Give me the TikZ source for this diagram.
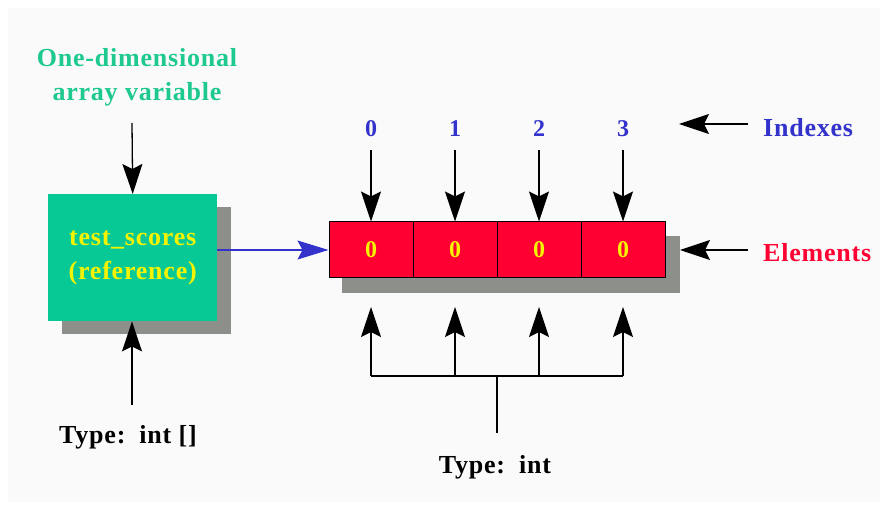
\documentclass[tikz,border=0pt]{standalone}
\usepackage{fontspec}
\setmainfont{Liberation Serif}
\usetikzlibrary{arrows.meta}
\definecolor{boxgreen}{HTML}{06C995}
\definecolor{txtgreen}{HTML}{1DC98E}
\definecolor{elred}{HTML}{FF0033}
\definecolor{idxblue}{HTML}{3333CC}
\definecolor{shadowgray}{HTML}{8C8F8A}
\definecolor{bgpanel}{HTML}{FAFAFA}
\definecolor{boxyellow}{HTML}{F4F400}
\newfontfamily\lblfont[LetterSpace=3]{Liberation Serif}
\tikzset{
  lbl/.style={font=\lblfont\bfseries\fontsize{26}{34}\selectfont, inner sep=0pt, align=center},
  digit/.style={font=\bfseries\fontsize{24}{26}\selectfont, inner sep=0pt},
  arr/.style={line width=1.3pt, -{Stealth[length=30pt,width=20pt,inset=5pt]}},
  blarr/.style={line width=1.2pt, idxblue, -{Stealth[length=31pt,width=19pt,inset=5pt]}},
  cell/.style={draw=black, line width=1pt, fill=elred, minimum width=84pt, minimum height=56pt, inner sep=0pt, digit, text=boxyellow},
  shadow/.style={fill=shadowgray, draw=none},
}
\begin{document}
\begin{tikzpicture}[x=1pt,y=-1pt]
\useasboundingbox (0,0) rectangle (887,510);
\fill[white] (0,0) rectangle (887,510);
\fill[bgpanel] (8,8) rectangle (880,502);
% green box
\fill[shadow] (62,207) rectangle (231,334);
\node[fill=boxgreen, minimum width=169pt, minimum height=127pt, inner sep=0pt, anchor=north west,
      lbl, text=boxyellow] (var) at (48,194) {test\_scores\\(reference)};
% labels
\node[lbl, text=txtgreen] (title) at (137,77) {One-dimensional\\array variable};
\coordinate (titlearr) at (132,123);
\draw[arr] (titlearr) -- (var.north);
\node[lbl] (typearr) at (128,437) {Type:\, int []};
\coordinate (typestart) at (132,405);
\draw[arr] (typestart) -- (var.south -| typestart);
% array
\fill[shadow] (342,236) rectangle (680,293);
\foreach \i/\x in {0/371,1/455,2/539,3/623}{
  \node[cell] (c\i) at (\x,250) {0};
  \node[digit, text=idxblue] (i\i) at (\x,129) {\i};
  \coordinate (it\i) at (\x,150);
  \draw[arr] (it\i) -- (c\i.north);
  \coordinate (b\i) at (\x,376);
  \coordinate (bs\i) at (\x,307);
  \draw[arr] (b\i) -- (bs\i);
}
\draw[line width=1.3pt] (b0) -- (b3);
\coordinate (bm) at (497,376);
\coordinate (bt) at (497,433);
\draw[line width=1.3pt] (bm) -- (bt);
\node[lbl] (typeint) at (495,467) {Type:\, int};
% reference arrow
\draw[blarr] (c0.west -| var.east) -- (c0.west);
% side labels
\node[lbl, text=idxblue, anchor=west] (idx) at (763,128) {Indexes};
\coordinate (idxs) at (748,124);
\coordinate (idxe) at (679,124);
\draw[arr] (idxs) -- (idxe);
\node[lbl, text=elred, anchor=west] (el) at (763,253) {Elements};
\coordinate (els) at (748,250);
\coordinate (ele) at (680,250);
\draw[arr] (els) -- (ele);
\end{tikzpicture}
\end{document}
